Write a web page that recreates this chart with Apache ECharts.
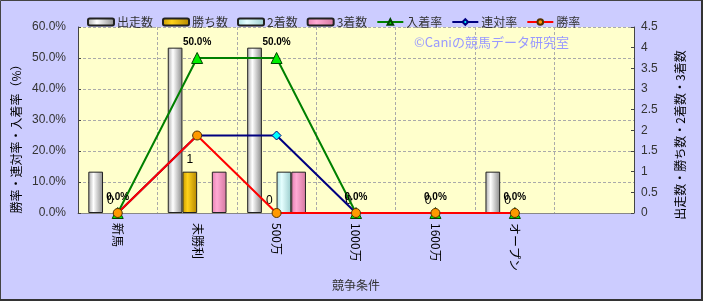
<!DOCTYPE html>
<html>
<head>
<meta charset="utf-8">
<script src="https://cdn.jsdelivr.net/npm/echarts@6/dist/echarts.min.js"></script>
<style>
html,body{margin:0;padding:0;background:#ccccff;}
#c{width:703px;height:301px;}
</style>
</head>
<body>
<div id="c"></div>
<script>
var categories = ['新馬', '未勝利', '500万', '1000万', '1600万', 'オープン', ''];
var starts = [1, 4, 4, 0, 0, 1, null];
var wins = [0, 1, 0, 0, 0, 0, null];
var seconds = [0, 0, 1, 0, 0, 0, null];
var thirds = [0, 1, 1, 0, 0, 0, null];
var placeRate = [0, 50, 50, 0, 0, 0, null];
var quinellaRate = [0, 25, 25, 0, 0, 0, null];
var winRate = [0, 25, 0, 0, 0, 0, null];
var leftTicks = {min: 0, max: 60, interval: 10};
var rightTicks = {min: 0, max: 4.5, interval: 0.5};
var leftName = '勝率・連対率・入着率（%）';
var rightName = '出走数・勝ち数・2着数・3着数';

var FONT = '"Liberation Sans", "Noto Sans CJK JP", sans-serif';
var JP = '"Noto Sans CJK JP", sans-serif';

function grad(c1, c2, c3) {
  return new echarts.graphic.LinearGradient(0, 0, 1, 0, [
    {offset: 0, color: c1}, {offset: 0.35, color: c2}, {offset: 1, color: c3}
  ]);
}
function barData(arr) {
  return arr.map(function (v) {
    return v === 0 ? {value: v, itemStyle: {color: 'rgba(0,0,0,0)', borderWidth: 0, borderColor: 'rgba(0,0,0,0)'}} : v;
  });
}

var chart = echarts.init(document.getElementById('c'), null, {renderer: 'canvas'});
var option = {
  backgroundColor: '#ccccff',
  animation: false,
  textStyle: {fontFamily: FONT},
  grid: {left: 78, right: 69, top: 27, bottom: 88, show: true, backgroundColor: '#ffffcc', borderWidth: 0},
  legend: {
    left: 82, top: 11, itemWidth: 26, itemHeight: 7, itemGap: 9,
    textStyle: {fontSize: 12, color: '#333', fontFamily: JP, padding: [0, 0, 0, -2]},
    data: ['出走数', '勝ち数', '2着数', '3着数', '入着率', '連対率', '勝率']
  },
  graphic: [
    {type: 'text', left: 414, top: 36, z: 10,
     style: {text: '©Caniの競馬データ研究室', fill: '#9999ff', font: '13px ' + JP}},
    {type: 'text', x: 16, y: 136, rotation: Math.PI / 2, z: 10,
     style: {text: leftName, fill: '#000', font: '12px ' + JP, align: 'center', verticalAlign: 'middle'}},
    {type: 'text', x: 680, y: 135, rotation: Math.PI / 2, z: 10,
     style: {text: rightName, fill: '#000', font: '12px ' + JP, align: 'center', verticalAlign: 'middle'}},
    {type: 'rect', z: 100, silent: true,
     shape: {x: 0.5, y: 0.5, width: 701, height: 299},
     style: {fill: 'none', stroke: '#444', lineWidth: 1}},
    {type: 'line', z: 100, silent: true, shape: {x1: 702, y1: 0, x2: 702, y2: 301}, style: {stroke: '#333', lineWidth: 2}},
    {type: 'line', z: 100, silent: true, shape: {x1: 0, y1: 300, x2: 703, y2: 300}, style: {stroke: '#333', lineWidth: 2}}
  ],
  xAxis: {
    type: 'category', data: categories, boundaryGap: true,
    name: '競争条件', nameLocation: 'middle', nameGap: 66,
    nameTextStyle: {fontSize: 12, color: '#333', fontFamily: JP},
    axisLine: {lineStyle: {color: '#888', width: 1}},
    axisTick: {show: false},
    axisLabel: {rotate: -90, interval: 0, fontSize: 12, color: '#000', fontFamily: JP, margin: 10},
    splitLine: {show: true, interval: 0, lineStyle: {color: '#aaa', type: [3, 2], width: 1}}
  },
  yAxis: [
    {
      type: 'value', min: leftTicks.min, max: leftTicks.max, interval: leftTicks.interval,
      axisLine: {show: true, lineStyle: {color: '#444'}},
      axisTick: {show: true, inside: true, length: 3, lineStyle: {color: '#444'}},
      axisLabel: {fontSize: 12, color: '#333', margin: 12, formatter: function (v) { return v.toFixed(1) + '%'; }},
      splitLine: {show: true, lineStyle: {color: '#aaa', type: [3, 2], width: 1}}
    },
    {
      type: 'value', min: rightTicks.min, max: rightTicks.max, interval: rightTicks.interval,
      axisLine: {show: true, lineStyle: {color: '#444'}},
      axisTick: {show: true, inside: true, length: 3, lineStyle: {color: '#444'}},
      axisLabel: {fontSize: 12, color: '#333', margin: 7},
      splitLine: {show: false}
    }
  ],
  series: [
    {name: '出走数', type: 'bar', yAxisIndex: 1, data: barData(starts), barGap: '0%', barCategoryGap: '26%',
     itemStyle: {color: grad('#a8a8a8', '#ffffff', '#8a8a8a'), borderColor: '#222', borderWidth: 1}},
    {name: '勝ち数', type: 'bar', yAxisIndex: 1, data: barData(wins),
     itemStyle: {color: grad('#c89a00', '#ffd21a', '#b38600'), borderColor: '#222', borderWidth: 1},
     label: {show: true, position: 'top', distance: 6, fontSize: 12, color: '#000'}},
    {name: '2着数', type: 'bar', yAxisIndex: 1, data: barData(seconds),
     itemStyle: {color: grad('#a8dede', '#e6ffff', '#99cccc'), borderColor: '#222', borderWidth: 1}},
    {name: '3着数', type: 'bar', yAxisIndex: 1, data: barData(thirds),
     itemStyle: {color: grad('#e57fb0', '#ffaad4', '#d4779f'), borderColor: '#222', borderWidth: 1}},
    {name: '入着率', type: 'line', yAxisIndex: 0, data: placeRate, z: 3,
     symbol: 'triangle', symbolSize: 11,
     lineStyle: {color: '#008000', width: 2},
     itemStyle: {color: '#00ee00', borderColor: '#004400', borderWidth: 1},
     label: {show: true, position: 'top', distance: 5, fontSize: 10, fontWeight: 'bold', color: '#000',
             formatter: function (p) { return p.value.toFixed(1) + '%'; }}},
    {name: '連対率', type: 'line', yAxisIndex: 0, data: quinellaRate, z: 4,
     symbol: 'diamond', symbolSize: 9,
     lineStyle: {color: '#000080', width: 2},
     itemStyle: {color: '#00ffff', borderColor: '#000080', borderWidth: 1}},
    {name: '勝率', type: 'line', yAxisIndex: 0, data: winRate, z: 5,
     symbol: 'circle', symbolSize: 9,
     lineStyle: {color: '#ff0000', width: 2},
     itemStyle: {color: '#ff9900', borderColor: '#553300', borderWidth: 1}}
  ]
};
chart.setOption(option);
</script>
</body>
</html>
